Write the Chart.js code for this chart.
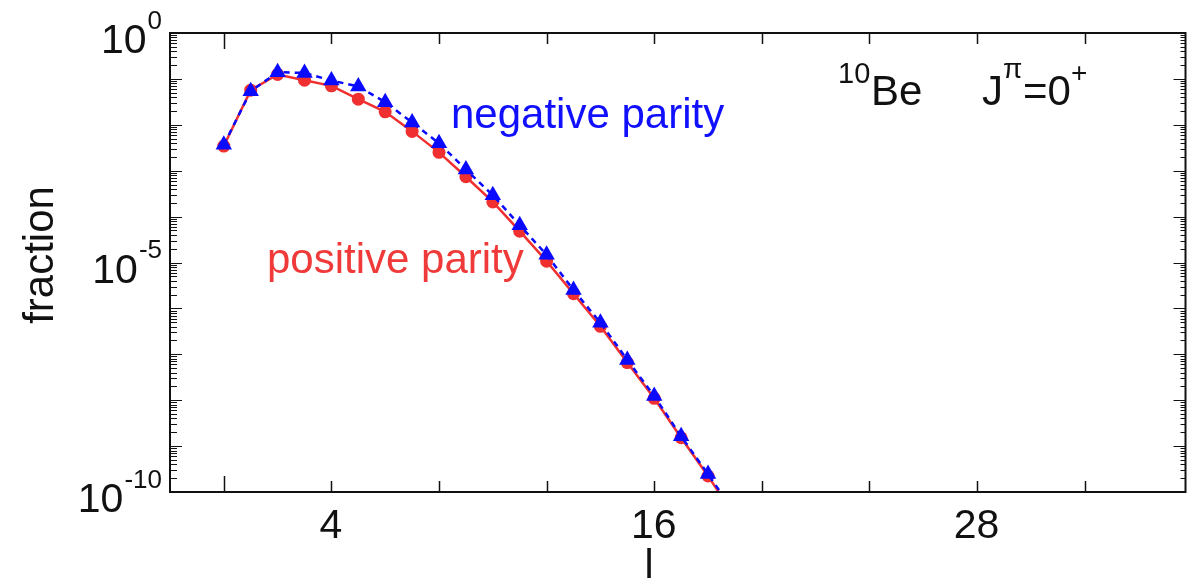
<!DOCTYPE html>
<html>
<head>
<meta charset="utf-8">
<script src="https://cdn.jsdelivr.net/npm/chart.js@4.4.1/dist/chart.umd.min.js"></script>
<style>
  html, body { margin: 0; padding: 0; background: #ffffff; }
  #wrap { width: 1195px; height: 580px; position: relative; }
</style>
</head>
<body>
<div id="wrap"><canvas id="c"></canvas></div>
<script>
// ---- data ----
const lValues = [0, 1, 2, 3, 4, 5, 6, 7, 8, 9, 10, 11, 12, 13, 14, 15, 16, 17, 18, 19];
const positiveParity = [3.44e-3, 5.68e-2, 0.125, 0.0937, 0.0705, 0.0362, 0.0192, 7.19e-3, 2.51e-3, 7.4e-4,
                        2.09e-4, 4.82e-5, 1.07e-5, 2.09e-6, 4.07e-7, 6.6e-8, 1.1e-8, 1.52e-9, 2.23e-10, 2.97e-11];
const negativeParity = [3.67e-3, 5.4e-2, 0.14, 0.135, 0.0923, 0.0684, 0.0311, 0.01127, 3.96e-3, 1.06e-3,
                        2.92e-4, 6.5e-5, 1.47e-5, 2.51e-6, 4.89e-7, 7.55e-8, 1.23e-8, 1.63e-9, 2.46e-10, 3.45e-11];
const xTickValues = [0, 4, 8, 12, 16, 20, 24, 28, 32];
const xTickLabels = ['4', '16', '28'];
const yDecades = [0, -1, -2, -3, -4, -5, -6, -7, -8, -9, -10];
const yLabelExponents = ['0', '-5', '-10'];

const FONT = '"Liberation Sans", Arial, sans-serif';

const framePlugin = {
  id: 'frame',
  afterDraw(chart) {
    const ctx = chart.ctx;
    const a = chart.chartArea;
    const xs = chart.scales.x, ys = chart.scales.y;
    ctx.save();
    ctx.strokeStyle = '#111';
    ctx.lineWidth = 2;
    ctx.strokeRect(a.left, a.top, a.right - a.left, a.bottom - a.top);
    ctx.lineWidth = 1.5;
    // x ticks (inward, top and bottom)
    xTickValues.forEach(v => {
      const px = Math.round(xs.getPixelForValue(v)) + 0.5;
      const len = v === 0 ? 16 : 11;
      ctx.beginPath();
      ctx.moveTo(px, a.bottom); ctx.lineTo(px, a.bottom - len);
      ctx.moveTo(px, a.top); ctx.lineTo(px, a.top + len);
      ctx.stroke();
    });
    // y ticks: majors and minors, inward on left and right
    ctx.lineWidth = 1.2;
    yDecades.forEach(e => {
      const base = Math.pow(10, e);
      const py = Math.round(ys.getPixelForValue(base)) + 0.5;
      ctx.beginPath();
      ctx.moveTo(a.left, py); ctx.lineTo(a.left + 12, py);
      ctx.moveTo(a.right, py); ctx.lineTo(a.right - 12, py);
      ctx.stroke();
      if (e < 0) {
        for (let m = 2; m <= 9; m++) {
          const my = Math.round(ys.getPixelForValue(base * m)) + 0.5;
          ctx.beginPath();
          ctx.moveTo(a.left, my); ctx.lineTo(a.left + 7, my);
          ctx.moveTo(a.right, my); ctx.lineTo(a.right - 5, my);
          ctx.stroke();
        }
      }
    });
    // y tick labels 10^n
    ctx.fillStyle = '#111';
    ctx.textBaseline = 'alphabetic';
    yLabelExponents.forEach(s => {
      const py = ys.getPixelForValue(Math.pow(10, Number(s)));
      ctx.font = '26px ' + FONT;
      ctx.textAlign = 'right';
      const w = ctx.measureText(s).width;
      ctx.fillText(s, 162, py - 4.5);
      ctx.font = '41px ' + FONT;
      ctx.fillText('10', 162 - w - 1, py + 20);
    });
    // x tick labels
    ctx.font = '41px ' + FONT;
    ctx.textAlign = 'center';
    xTickLabels.forEach(s => {
      ctx.fillText(s, xs.getPixelForValue(Number(s)) - 0.5, 538);
    });
    // axis titles
    ctx.fillText('l', 649, 578);
    ctx.save();
    ctx.translate(53, 255);
    ctx.rotate(-Math.PI / 2);
    ctx.font = '42px ' + FONT;
    ctx.textAlign = 'center';
    ctx.fillText('fraction', 0, 0);
    ctx.restore();
    // annotations
    ctx.textAlign = 'left';
    ctx.font = '42px ' + FONT;
    ctx.fillStyle = '#1010ff';
    ctx.fillText('negative parity', 451, 128);
    ctx.fillStyle = '#f03a3a';
    ctx.fillText('positive parity', 267, 273);
    ctx.fillStyle = '#111';
    ctx.font = '29px ' + FONT;
    ctx.fillText('10', 838, 83);
    ctx.font = '42px ' + FONT;
    ctx.fillText('Be', 871, 105);
    ctx.fillText('J', 982, 105);
    ctx.font = '28px ' + FONT;
    ctx.fillText('\u03c0', 1003, 78);
    ctx.font = '42px ' + FONT;
    ctx.fillText('=0', 1023, 105);
    ctx.font = '28px ' + FONT;
    ctx.fillText('+', 1071, 82);
    ctx.restore();
  }
};

new Chart(document.getElementById('c'), {
  type: 'line',
  data: {
    datasets: [
      {
        label: 'negative parity',
        data: lValues.map((l, i) => ({ x: l, y: negativeParity[i] })),
        borderColor: '#0a0aff',
        backgroundColor: '#0a0aff',
        borderWidth: 2.5,
        borderDash: [6, 5],
        pointStyle: 'triangle',
        pointRadius: 9.5,
        pointBorderWidth: 0,
        order: 0
      },
      {
        label: 'positive parity',
        data: lValues.map((l, i) => ({ x: l, y: positiveParity[i] })),
        borderColor: '#f03030',
        backgroundColor: '#f03030',
        borderWidth: 2.5,
        pointStyle: 'circle',
        pointRadius: 6.5,
        pointBorderWidth: 0,
        order: 1
      }
    ]
  },
  options: {
    responsive: true,
    maintainAspectRatio: false,
    animation: false,
    layout: { padding: { left: 170, right: 3, top: 33, bottom: 88 } },
    plugins: { legend: { display: false }, tooltip: { enabled: false } },
    scales: {
      x: { type: 'linear', min: -2, max: 35.75, display: false },
      y: { type: 'logarithmic', min: 1e-10, max: 1, display: false }
    }
  },
  plugins: [framePlugin]
});
</script>
</body>
</html>
